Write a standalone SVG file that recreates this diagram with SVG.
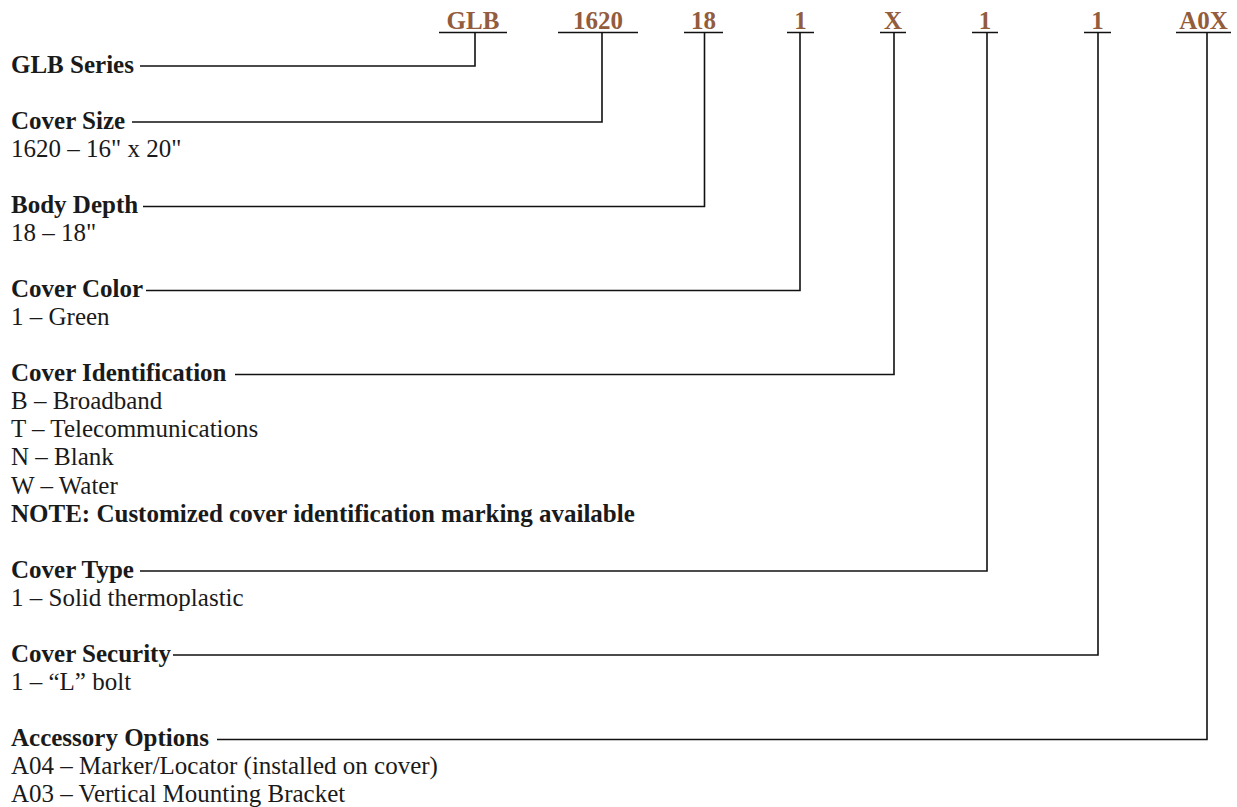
<svg xmlns="http://www.w3.org/2000/svg" width="1237" height="807" viewBox="0 0 1237 807">
<style>
.code{font-family:"Liberation Serif",serif;font-weight:bold;font-size:25px;fill:#935c3c;text-anchor:middle}
.lbl{font-family:"Liberation Serif",serif;font-weight:bold;font-size:25px;fill:#1a1a1a}
.opt{font-family:"Liberation Serif",serif;font-size:25px;fill:#1a1a1a}
.ln{fill:none;stroke:#111;stroke-width:1.6}
</style>
<rect width="1237" height="807" fill="#fff"/>
<g id="header">
<text class="code" x="473" y="29">GLB</text>
<text class="code" x="598" y="29">1620</text>
<text class="code" x="703.5" y="29">18</text>
<text class="code" x="800.5" y="29">1</text>
<text class="code" x="893" y="29">X</text>
<text class="code" x="985" y="29">1</text>
<text class="code" x="1097.5" y="29">1</text>
<text class="code" x="1203.5" y="29">A0X</text>
<path class="ln" d="M439 32.5H507M558 32.5H638M684 32.5H723M787 32.5H814M880 32.5H906M972 32.5H998M1084 32.5H1111M1176 32.5H1231"/>
</g>
<g id="connectors">
<polyline class="ln" points="140,66 475,66 475,32.5"/>
<polyline class="ln" points="132,122 602,122 602,32.5"/>
<polyline class="ln" points="143,206.5 704.5,206.5 704.5,32.5"/>
<polyline class="ln" points="146,290.5 800,290.5 800,32.5"/>
<polyline class="ln" points="235,374.5 894,374.5 894,32.5"/>
<polyline class="ln" points="140,571 987,571 987,32.5"/>
<polyline class="ln" points="173,655 1098,655 1098,32.5"/>
<polyline class="ln" points="217,739.5 1207,739.5 1207,32.5"/>
</g>
<g id="n-series"><text class="lbl" x="11" y="72.5">GLB Series</text></g>
<g id="n-size"><text class="lbl" x="11" y="128.6">Cover Size</text><text class="opt" x="11" y="156.7">1620 – 16" x 20"</text></g>
<g id="n-depth"><text class="lbl" x="11" y="212.8">Body Depth</text><text class="opt" x="11" y="240.9">18 – 18"</text></g>
<g id="n-color"><text class="lbl" x="11" y="297">Cover Color</text><text class="opt" x="11" y="325">1 – Green</text></g>
<g id="n-ident"><text class="lbl" x="11" y="381.2">Cover Identification</text>
<text class="opt" x="11" y="409.2">B – Broadband</text>
<text class="opt" x="11" y="437.3">T – Telecommunications</text>
<text class="opt" x="11" y="465.4">N – Blank</text>
<text class="opt" x="11" y="493.5">W – Water</text>
<text class="lbl" x="11" y="521.5">NOTE: Customized cover identification marking available</text></g>
<g id="n-type"><text class="lbl" x="11" y="577.6">Cover Type</text><text class="opt" x="11" y="605.7">1 – Solid thermoplastic</text></g>
<g id="n-security"><text class="lbl" x="11" y="661.8">Cover Security</text><text class="opt" x="11" y="689.8">1 – “L” bolt</text></g>
<g id="n-access"><text class="lbl" x="11" y="746">Accessory Options</text>
<text class="opt" x="11" y="774">A04 – Marker/Locator (installed on cover)</text>
<text class="opt" x="11" y="802">A03 – Vertical Mounting Bracket</text></g>
</svg>
